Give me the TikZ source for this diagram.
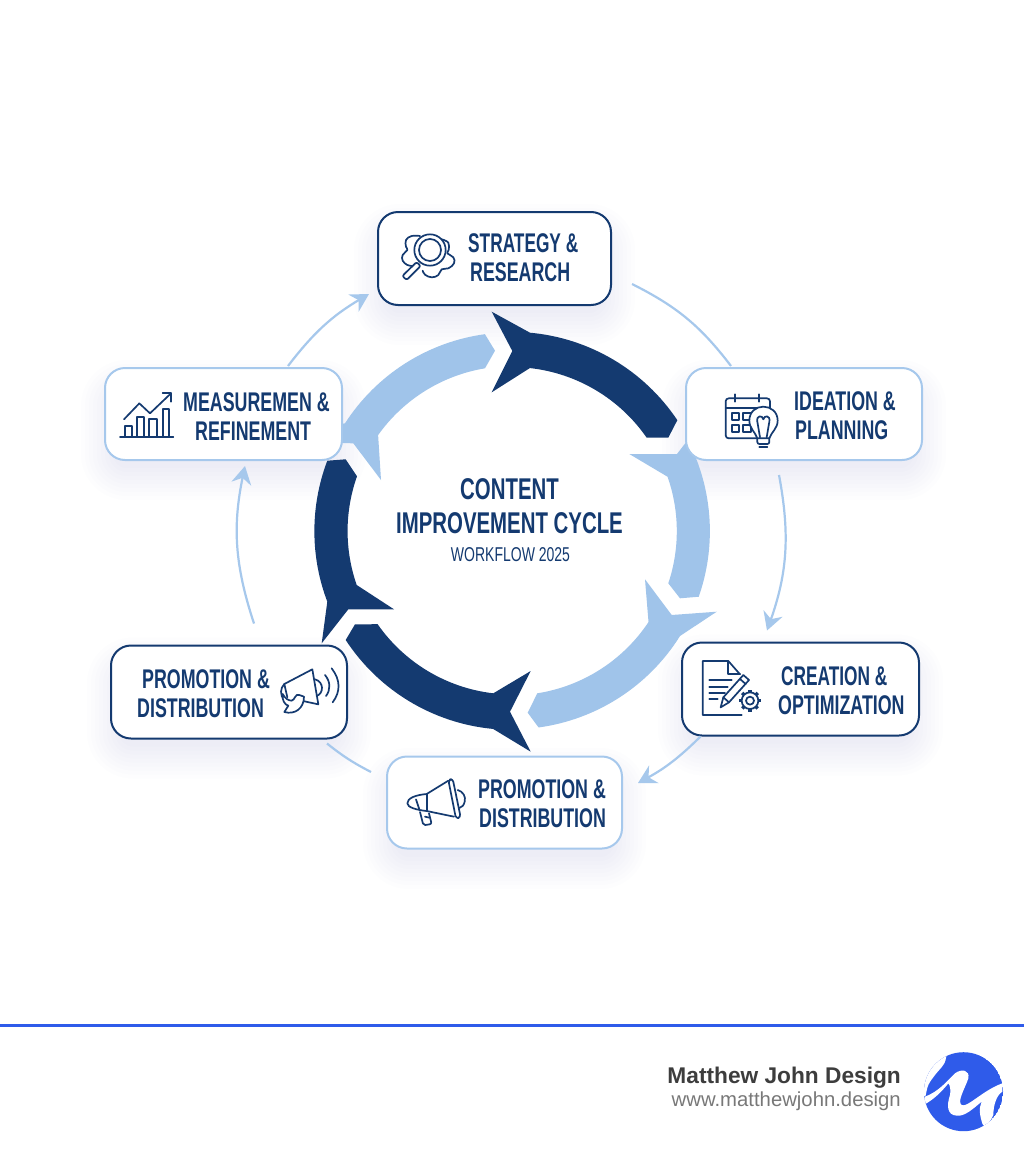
\documentclass[tikz,border=0pt]{standalone}
\usepackage{fontspec}
\setmainfont{Liberation Sans}
\newfontfamily\cond[FakeStretch=0.64]{Liberation Sans}
\newfontfamily\condw[FakeStretch=0.66]{Liberation Sans}
\newfontfamily\condt[FakeStretch=0.68]{Liberation Sans}
\newfontfamily\conds[FakeStretch=0.70]{Liberation Sans}
\usetikzlibrary{arrows.meta,calc}
\definecolor{navyc}{HTML}{143A70}
\definecolor{lightc}{HTML}{A0C4EA}
\definecolor{edgec}{HTML}{A6C8EC}
\definecolor{shadc}{HTML}{5B8FD0}
\definecolor{brandc}{HTML}{2F5BEA}
\newcommand{\softshadow}[4]{%
  \foreach \s in {-8,-4,...,24}{%
    \pgfmathsetmacro{\rc}{max(8,22+\s)}%
    \fill[shadc,opacity=.011,rounded corners=\rc pt]
      ({#1-#3/2-\s},{#2-#4/2+16-\s}) rectangle ({#1+#3/2+\s},{#2+#4/2+16+\s});
  }}
\tikzset{
  x=1pt,y=-1pt,
  ringdark/.style={fill=navyc},
  ringlight/.style={fill=lightc},
  darkbox/.style={draw=navyc,line width=2pt,fill=white,rounded corners=20pt,minimum width=#1,inner sep=0pt,minimum height=93pt},
  lightbox/.style={draw=edgec,line width=2pt,fill=white,rounded corners=20pt,minimum width=#1,inner sep=0pt,minimum height=92pt},
  boxlabel/.style={font=\condw\bfseries\fontsize{27}{29}\selectfont,text=navyc,inner sep=0pt,align=left,anchor=west},
  conn/.style={draw=edgec,line width=2.2pt},
  connarrow/.style={conn,-{Stealth[length=18pt,width=20pt,inset=6pt]}},
  il/.style={draw=navyc,line width=1.7pt,line cap=round,line join=round},
}
\begin{document}
\begin{tikzpicture}
\useasboundingbox (0,0) rectangle (1024,1154);
\fill[white] (0,0) rectangle (1024,1154);
\coordinate (hub) at (512,531);

% shadows
\softshadow{494.5}{258.5}{233}{93}
\softshadow{804}{414}{236}{92}
\softshadow{800.5}{689}{237}{93}
\softshadow{504.5}{802.5}{235}{93}
\softshadow{229}{692}{236}{93}
\softshadow{223.5}{414}{237}{92}

% ring segments
\fill[ringdark] (491.7,311.7) -- (530,332.7) arc[start angle=-84.8,end angle=-33.8,radius=199]
  -- (668.3,437.7) -- (646.7,437.7) arc[start angle=-34.7,end angle=-83.7,radius=164]
  -- (491.7,392.3) -- (512.3,351) -- cycle;
\fill[ringlight] (629.3,454) -- (677,454) -- (687,441) -- (696.7,460) arc[start angle=-21,end angle=19.3,radius=198.5]
  -- (680,598.3) -- (668.3,583.3) arc[start angle=18.5,end angle=-19.3,radius=164.5] -- cycle;
\fill[ringlight] (645,579.3) -- (671.7,615) -- (716.7,611.7) -- (680,636) arc[start angle=32,end angle=82.2,radius=198.5]
  -- (527.7,712.7) -- (537.3,693.3) arc[start angle=81.1,end angle=33.6,radius=164] -- cycle;
\fill[ringdark] (530.7,671) -- (493.3,693.3) arc[start angle=96.6,end angle=145.1,radius=164]
  -- (355,624.3) -- (345.7,640) arc[start angle=146.8,end angle=95.4,radius=198.5]
  -- (530.7,751.7) -- (510,711.7) -- cycle;
\fill[ringdark] (394,609.3) -- (356.7,585) arc[start angle=160.8,end angle=199.5,radius=164]
  -- (345.7,459.3) -- (327.3,460.7) arc[start angle=200.8,end angle=159.2,radius=198.5]
  -- (321.7,643.3) -- (348.3,609.3) -- cycle;
\fill[ringlight] (381,480) -- (353.3,443.3) -- (338,443) -- (335,425) -- (345,423.3) arc[start angle=212.8,end angle=262.2,radius=198.5]
  -- (495,350.7) -- (485,368.3) arc[start angle=260.6,end angle=215.4,radius=164] -- cycle;

% boxes
\node[darkbox=233pt] (strategy) at (494.5,258.5) {};
\node[lightbox=236pt] (ideation) at (804,414) {};
\node[darkbox=237pt] (creation) at (800.5,689) {};
\node[lightbox=235pt] (promob) at (504.5,802.5) {};
\node[darkbox=236pt] (promol) at (229,692) {};
\node[lightbox=237pt] (measure) at (223.5,414) {};

% connectors
\coordinate (c1a) at ($(strategy.east)+(20,25.5)$);
\coordinate (c1b) at ($(ideation.north)+(-73,-1)$);
\coordinate (c2a) at ($(ideation.south)+(-25,14)$);
\coordinate (c2b) at ($(creation.north)+(-33.5,-11)$);
\coordinate (c3a) at ($(creation.south)+(-100,0)$);
\coordinate (c3b) at ($(promob.east)+(15,-19.5)$);
\coordinate (c4a) at ($(promob.west)+(-15,-30.5)$);
\coordinate (c4b) at ($(promol.south)+(98,4)$);
\coordinate (c5a) at ($(promol.north)+(25,-21)$);
\coordinate (c5b) at ($(measure.south)+(21.5,5)$);
\coordinate (c6a) at ($(measure.north)+(64.5,-1)$);
\coordinate (c6b) at ($(strategy.west)+(-8,35.5)$);
\draw[conn] (c1a) to[bend left=13] (c1b);
\draw[connarrow] (c2a) to[bend left=15] (c2b);
\draw[connarrow] (c3a) to[bend left=8] (c3b);
\draw[conn] (c4a) to[bend left=5.5] (c4b);
\draw[connarrow] (c5a) to[bend left=15] (c5b);
\draw[connarrow] (c6a) to[bend left=11] (c6b);

% labels
\node[boxlabel] (lstrategy) at (468,257.5) {\cond STRATEGY \&\\\hspace*{2pt}RESEARCH};
\node[boxlabel] (lideation) at (794,415.5) {IDEATION \&\\\hspace*{1pt}PLANNING};
\node[boxlabel] (lcreation) at (778,691) {\hspace*{3pt}{\cond CREATION \&}\\OPTIMIZATION};
\node[boxlabel] (lpromob) at (478,803.5) {PROMOTION \&\\\hspace*{1pt}DISTRIBUTION};
\node[boxlabel] (lpromol) at (137,694) {\hspace*{5pt}PROMOTION \&\\DISTRIBUTION};
\node[boxlabel] (lmeasure) at (183,417) {MEASUREMEN \&\\\hspace*{12pt}REFINEMENT};

% centre title
\node[font=\condt\bfseries\fontsize{30}{34}\selectfont,text=navyc,inner sep=0pt,align=center] (title) at (509.5,506) {CONTENT\\IMPROVEMENT CYCLE};
\node[font=\conds\fontsize{20}{24}\selectfont,text=navyc,inner sep=0pt] (subtitle) at (510.5,554.5) {WORKFLOW 2025};

% icon: strategy
\begin{scope}[shift={(370,200)},scale=1/3]
\draw[il] plot[smooth,tension=.7] coordinates {(150,108)(125,108)(108,120)(108,140)(112,150)(98,165)(98,182)(112,195)(128,198)};
\draw[il] plot[smooth,tension=.7] coordinates {(215,118)(235,128)(236,150)(232,160)(250,172)(252,190)(235,205)(215,208)(205,225)(185,232)(165,224)(158,212)};
\draw[il,fill=white] (180,150) circle[radius=47];
\draw[il] (180,150) circle[radius=33];
\draw[il,fill=white,rounded corners=2pt] (140,186) -- (152,198) -- (110,240) -- (97,228) -- cycle;
\end{scope}

% icon: ideation
\begin{scope}[shift={(680,360)},scale=1/3]
\draw[il,rounded corners=3pt] (230,235) -- (137,235) -- (137,115) -- (270,115) -- (270,150);
\draw[il] (137,145) -- (268,145);
\draw[il] (165,103) -- (165,125);
\draw[il] (238,103) -- (238,125);
\draw[il] (155,160) rectangle (178,180);
\draw[il] (190,160) rectangle (212,180);
\draw[il] (155,195) rectangle (178,217);
\draw[il] (190,195) rectangle (212,217);
\draw[il,fill=white] (232,235) .. controls (225,215) and (208,205) .. (208,182) .. controls (208,155) and (228,140) .. (250,140) .. controls (272,140) and (293,155) .. (293,182) .. controls (293,205) and (275,215) .. (268,235) -- cycle;
\draw[il] (240,232) -- (232,185) .. controls (228,165) and (248,165) .. (250,178) .. controls (252,165) and (272,165) .. (268,185) -- (260,232);
\draw[il,rounded corners=2pt] (232,235) -- (232,252) -- (268,252) -- (268,235);
\draw[il] (238,262) -- (262,262);
\end{scope}

% icon: creation
\begin{scope}[shift={(675,635)},scale=1/3]
\draw[il] (195,118) -- (160,78) -- (83,78) -- (83,240) -- (200,240);
\draw[il] (160,78) -- (160,118) -- (195,118);
\draw[il] (103,135) -- (170,135);
\draw[il] (103,155) -- (158,155);
\draw[il] (103,175) -- (150,175);
\draw[il] (103,193) -- (128,193);
\draw[il,fill=white] (137,217) -- (145,187) -- (205,120) -- (222,135) -- (162,202) -- cycle;
\draw[il] (145,187) -- (162,202);
\draw[il] (195,132) -- (212,147);
\foreach \a in {0,45,...,315}{\draw[draw=navyc,line width=3.4pt] (225,197) ++(\a:24) -- ++(\a:9);}
\draw[il,fill=white] (225,197) circle[radius=25];
\draw[il] (225,197) circle[radius=12];
\end{scope}

% icon: promotion bottom
\begin{scope}[shift={(380,750)},scale=1/3]
\draw[il] (140,132) .. controls (105,135) and (82,145) .. (82,160) .. controls (82,172) and (110,180) .. (140,183);
\draw[il] (140,132) -- (205,92);
\draw[il] (140,183) -- (222,200);
\draw[il] (140,132) -- (140,183);
\draw[il] (118,178) -- (108,148);
\draw[il,fill=white,rounded corners=3pt] (205,90) -- (218,86) -- (242,202) -- (228,206) -- cycle;
\draw[il] (233,120) .. controls (250,125) and (258,140) .. (254,155) .. controls (252,165) and (246,172) .. (238,174);
\draw[il,rounded corners=2pt] (120,186) -- (130,226) -- (155,222) -- (147,190);
\draw[il] (135,200) -- (148,203);
\end{scope}

% icon: promotion left
\begin{scope}[shift={(100,640)},scale=1/3]
\draw[il] (553,132) -- (637,88) -- (655,193) -- (595,180);
\draw[il] (553,132) .. controls (540,145) and (540,165) .. (552,180);
\draw[il] (553,132) -- (562,172);
\draw[il] (645,118) .. controls (672,125) and (672,160) .. (650,168);
\draw[il] (675,105) .. controls (692,125) and (692,150) .. (678,168);
\draw[il] (695,85) .. controls (722,120) and (722,155) .. (698,187);
\draw[il,fill=white] (553,216) .. controls (585,225) and (612,205) .. (612,170) -- (598,165) .. controls (585,160) and (585,180) .. (575,182) .. controls (565,182) and (555,175) .. (548,162) .. controls (545,180) and (555,195) .. (565,197) -- cycle;
\end{scope}

% icon: measurement
\begin{scope}[shift={(100,360)},scale=1/3]
\draw[il] (60,230) -- (220,230);
\draw[il] (75,230) -- (75,198) -- (97,198) -- (97,230);
\draw[il] (110,230) -- (110,172) -- (132,172) -- (132,230);
\draw[il] (147,230) -- (147,178) -- (170,178) -- (170,230);
\draw[il] (188,230) -- (188,148) -- (208,148) -- (208,230);
\draw[il] (72,178) -- (118,130) -- (150,160) -- (213,100);
\draw[il] (188,100) -- (213,100) -- (213,125);
\end{scope}

% footer
\fill[brandc] (0,1024) rectangle (1024,1027);
\node[font=\bfseries\fontsize{22.7}{26}\selectfont,text=black!76,inner sep=0pt,anchor=east] (brand) at (901,1078) {Matthew John Design};
\node[font=\fontsize{20.3}{24}\selectfont,text=black!53,inner sep=0pt,anchor=east] (site) at (901,1101) {www.matthewjohn.design};

% logo
\begin{scope}
\clip (963.5,1091.7) circle[radius=39.5];
\fill[brandc] (963.5,1091.7) circle[radius=39.5];
\begin{scope}[shift={(915,1045)},scale=1/3]
\fill[white] plot[smooth,tension=.6] coordinates {(95,25)(88,55)(60,90)(40,120)(32,152)} -- (0,160) -- (0,0) -- (95,0) -- cycle;
\fill[white] (30,155) .. controls (70,140) and (95,110) .. (120,85) .. controls (140,70) and (165,75) .. (160,100)
  .. controls (150,130) and (125,170) .. (140,180) .. controls (155,190) and (205,135) .. (262,115)
  -- (262,140) .. controls (245,150) and (235,180) .. (235,210) -- (215,250) -- (203,238)
  .. controls (195,215) and (190,190) .. (200,170) .. controls (175,190) and (150,215) .. (125,212)
  .. controls (95,210) and (95,180) .. (105,150) .. controls (108,135) and (105,120) .. (100,115)
  .. controls (80,140) and (55,165) .. (25,180) -- cycle;
\end{scope}
\end{scope}
\end{tikzpicture}
\end{document}
